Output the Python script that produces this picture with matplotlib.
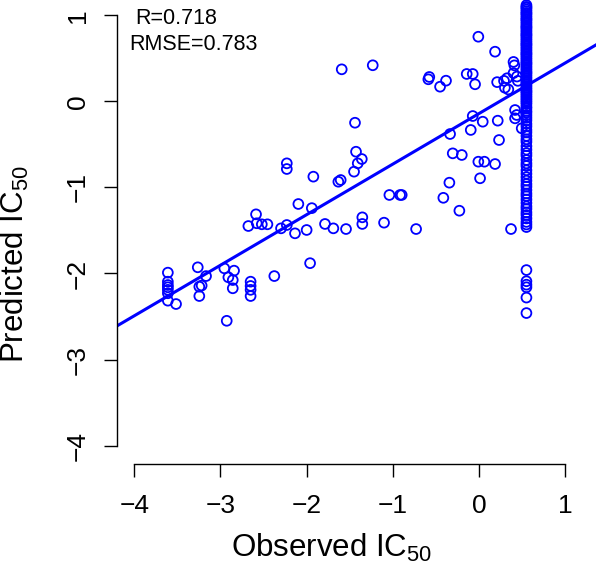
import numpy as np
import matplotlib
matplotlib.use("Agg")
import matplotlib.pyplot as plt

plt.rcParams['font.family'] = ['Liberation Sans', 'DejaVu Sans']
plt.rcParams['mathtext.fontset'] = 'custom'
plt.rcParams['mathtext.rm'] = 'Liberation Sans'
plt.rcParams['mathtext.it'] = 'Liberation Sans:italic'

# ---- data ----
obs_scatter = [
    -3.61, -3.61, -3.61, -3.61, -3.61, -3.61, -3.61, -3.515,
    -3.263, -3.167, -3.245, -3.218, -3.245,
    -2.955, -2.842, -2.908, -2.857, -2.857,
    -2.65, -2.65, -2.65, -2.65,
    -2.375, -2.927, -1.96,
    -2.676, -2.587, -2.579, -2.52, -2.455,
    -2.297, -2.23, -2.135, -2.0, -2.096, -1.94,
    -1.787, -1.69, -1.543, -1.354, -1.354, -1.102,
    -1.04, -0.916, -0.73,
    -2.23, -2.23, -1.922, -1.632, -1.605, -1.45,
    -1.427, -1.36, -1.407, -1.439, -1.593, -1.233,
    -0.588, -0.577, -0.452, -0.383, -0.143, -0.073, -0.046,
    -0.008, 0.186, 0.21, 0.29, 0.325, 0.30, 0.34, 0.40, 0.40, 0.41, 0.44, 0.45,
    0.418, 0.437, 0.418, 0.495,
    -0.073, 0.043, 0.217, -0.096, -0.336, 0.232,
    -0.305, -0.2, -0.008, 0.062, 0.186,
    -0.344, 0.012, -0.897, -0.414, -0.228, 0.371,
]
pred_scatter = [
    -1.99, -2.095, -2.134, -2.16, -2.19, -2.23, -2.316, -2.355,
    -1.928, -2.03, -2.153, -2.14, -2.262,
    -1.94, -1.967, -2.044, -2.076, -2.172,
    -2.095, -2.145, -2.19, -2.262,
    -2.03, -2.55, -1.88,
    -1.448, -1.312, -1.416, -1.428, -1.428,
    -1.475, -1.436, -1.533, -1.494, -1.192, -1.24,
    -1.424, -1.475, -1.483, -1.347, -1.424, -1.409,
    -1.087, -1.087, -1.483,
    -0.719, -0.785, -0.874, -0.933, -0.913, -0.816,
    -0.584, -0.669, -0.719, -0.247, 0.374, 0.421,
    0.258, 0.285, 0.172, 0.242, 0.32, 0.32, 0.2,
    0.753, 0.579, 0.225, 0.24, 0.27, 0.16, 0.14, 0.33, 0.46, 0.42, 0.29, 0.24,
    -0.099, -0.157, -0.196, -0.312,
    -0.169, -0.235, -0.223, -0.331, -0.378, -0.448,
    -0.603, -0.622, -0.70, -0.70, -0.727,
    -0.944, -0.893, -1.087, -1.12, -1.27, -1.483,
]
# censored column of observations at the upper limit
obs_column = 0.55
pred_column = [
    1.12, 1.10, 1.09, 1.07, 1.05, 1.03, 1.02, 1.00, 0.98, 0.96, 0.95, 0.93,
    0.91, 0.89, 0.87, 0.86, 0.84, 0.82, 0.80, 0.78, 0.77, 0.75, 0.73, 0.71,
    0.69, 0.67, 0.66, 0.64, 0.62, 0.60, 0.58, 0.56, 0.55, 0.53, 0.51, 0.49,
    0.47, 0.45, 0.44, 0.42, 0.40, 0.38, 0.36, 0.34, 0.33, 0.31, 0.29, 0.27,
    0.25, 0.23, 0.22, 0.20, 0.18, 0.16, 0.14, 0.12, 0.11, 0.09, 0.07, 0.05,
    0.03, 0.01, -0.01, -0.03, -0.06, -0.08, -0.11, -0.13, -0.16, -0.19,
    -0.22, -0.26, -0.29, -0.33, -0.36, -0.40, -0.44, -0.47, -0.52, -0.56,
    -0.60, -0.63, -0.68, -0.72, -0.75, -0.80, -0.84, -0.88, -0.92, -0.96,
    -0.99, -1.03, -1.07, -1.10, -1.14, -1.18, -1.22, -1.25, -1.29, -1.32,
    -1.36, -1.40, -1.43, -1.46,
    -1.96, -2.09, -2.13, -2.16, -2.28, -2.46,
]
fit_intercept = -0.14
fit_slope = 0.588
stats_lines = ["R=0.718", "RMSE=0.783"]
x_ticks = [-4, -3, -2, -1, 0, 1]
y_ticks = [-4, -3, -2, -1, 0, 1]

# ---- figure ----
W, H = 596, 566
fig = plt.figure(figsize=(W / 100, H / 100), dpi=100)
ax = fig.add_axes([117 / W, 102 / H, 479 / W, 464 / H])
ax.set_xlim(-4.20, 1.357)
ax.set_ylim(-4.215, 1.18)

blue = '#0000FF'
obs_all = list(obs_scatter) + [obs_column] * len(pred_column)
pred_all = list(pred_scatter) + list(pred_column)
ax.scatter(obs_all, pred_all, s=50, facecolors='none', edgecolors=blue,
           linewidths=1.3, zorder=3)

xs = np.array(ax.get_xlim())
ax.plot(xs, fit_intercept + fit_slope * xs, color=blue, lw=2.2, zorder=2)

for s in ['top', 'right']:
    ax.spines[s].set_visible(False)
ax.spines['left'].set_bounds(-4, 1)
ax.spines['bottom'].set_bounds(-4, 1)
for s in ['left', 'bottom']:
    ax.spines[s].set_linewidth(1.0)

ax.set_xticks(x_ticks)
ax.set_yticks(y_ticks)
ax.set_xticklabels([f"{v:d}".replace('-', '\u2212') for v in x_ticks])
ax.set_yticklabels([f"{v:d}".replace('-', '\u2212') for v in y_ticks])
ax.tick_params(axis='both', direction='out', length=9.4, width=1.0,
               labelsize=19)
ax.tick_params(axis='x', pad=12)
ax.tick_params(axis='y', pad=10)
for lab in ax.get_yticklabels():
    lab.set_rotation(90)
    lab.set_va('center')
    lab.set_ha('right')

ax.set_xlabel('Observed IC$_\\mathrm{50}$', fontsize=22.5, va='baseline')
ax.xaxis.set_label_coords((332 - 117) / 479, (464 - 557) / 464)
ax.set_ylabel('Predicted IC$_\\mathrm{50}$', fontsize=22.5, va='baseline',
              rotation_mode='anchor')
ax.yaxis.set_label_coords((24 - 117) / 479, (464 - 264) / 464)

fig.text(135 / W, 1 - 24 / H, stats_lines[0], fontsize=15.5, ha='left',
         va='baseline')
fig.text(129.3 / W, 1 - 50 / H, stats_lines[1], fontsize=15.5, ha='left',
         va='baseline')

fig.savefig('out.png', dpi=100)
